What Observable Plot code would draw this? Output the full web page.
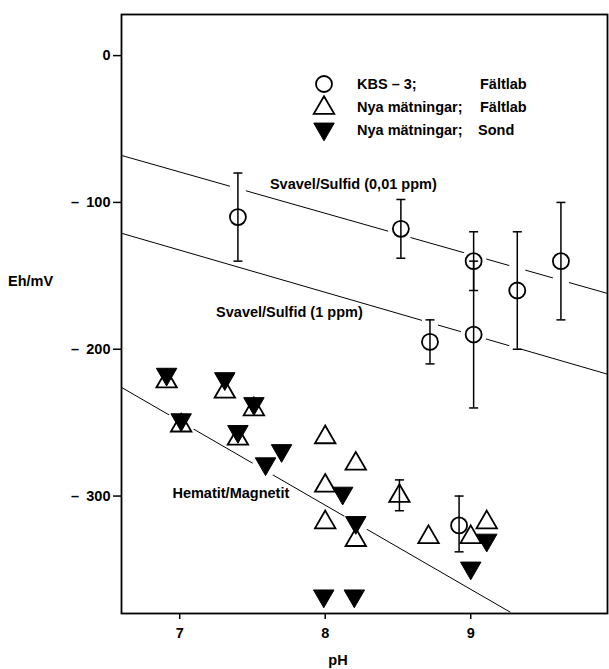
<!DOCTYPE html>
<html><head><meta charset="utf-8">
<script src="https://cdn.jsdelivr.net/npm/d3@7"></script>
<script src="https://cdn.jsdelivr.net/npm/@observablehq/plot@0.6"></script>
<style>
body{margin:0;background:#fff}
#chart svg text{font-family:"Liberation Sans",Arial,Helvetica,sans-serif;font-weight:bold;}
</style>
</head><body><div id="chart"></div>
<script>
// KBS-3; Fältlab (circles with error bars)
const kbsPH = [7.40, 8.52, 9.02, 9.02, 8.72, 9.32, 9.62, 8.92];
const kbsEh = [-110, -118, -140, -190, -195, -160, -140, -320];
const kbsLo = [-140, -138, -160, -240, -210, -200, -180, -338];
const kbsHi = [-80, -98, -120, -140, -180, -120, -100, -300];

// Nya mätningar; Fältlab (open triangles)
const faltPH = [6.91, 7.31, 7.51, 7.01, 7.40, 8.00, 8.21, 8.00, 8.00, 8.21, 8.51, 8.71, 9.00, 9.11];
const faltEh = [-222, -229, -241, -252, -261, -260, -278, -293, -318, -330, -300, -328, -328, -318];
// error bar on one open triangle
const faltErrPH = [8.51];
const faltErrLo = [-310];
const faltErrHi = [-289];

// Nya mätningar; Sond (filled triangles)
const sondPH = [6.91, 7.31, 7.51, 7.01, 7.40, 7.59, 7.70, 8.12, 8.21, 9.11, 9.00, 7.99, 8.20];
const sondEh = [-217, -220, -237, -248, -256, -278, -269, -298, -318, -330, -349, -368, -368];

// equilibrium lines
const lineNames = ["Svavel/Sulfid (0,01 ppm)", "Svavel/Sulfid (1 ppm)", "Hematit/Magnetit"];
const linePH = [[6.6, 9.94], [6.6, 9.94], [6.6, 9.27]];
const lineEh = [[-68, -162], [-121, -217], [-226, -379]];
// label anchors (data coords)
const labelPH = [7.62, 7.25, 6.95];
const labelEh = [-88, -175, -298];

const xTicks = [7, 8, 9];
const yTicks = [0, -100, -200, -300];

const legendLabels = ["KBS – 3;", "Nya mätningar;", "Nya mätningar;"];
const legendSources = ["Fältlab", "Fältlab", "Sond"];

// ---- build tables ----
const kbs = kbsPH.map((x, i) => ({pH: x, eh: kbsEh[i], lo: kbsLo[i], hi: kbsHi[i]}));
const falt = faltPH.map((x, i) => ({pH: x, eh: faltEh[i]}));
const faltErr = faltErrPH.map((x, i) => ({pH: x, lo: faltErrLo[i], hi: faltErrHi[i]}));
const sond = sondPH.map((x, i) => ({pH: x, eh: sondEh[i]}));
const lines = lineNames.flatMap((n, i) => linePH[i].map((x, j) => ({name: n, pH: x, eh: lineEh[i][j]})));
const labels = lineNames.map((n, i) => ({name: n, pH: labelPH[i], eh: labelEh[i]}));
const bars = [...kbs, ...faltErr];
const caps = bars.flatMap(d => [{pH: d.pH, eh: d.lo}, {pH: d.pH, eh: d.hi}]);
const allMarkers = [...kbs, ...falt, ...sond];

const triDown = {
  draw(ctx, size) {
    const y = -Math.sqrt(size / (3 * Math.sqrt(3)));
    ctx.moveTo(0, -2 * y);
    ctx.lineTo(-Math.sqrt(3) * y, y);
    ctx.lineTo(Math.sqrt(3) * y, y);
    ctx.closePath();
  }
};
const capSym = {
  draw(ctx, size) {
    const w = Math.sqrt(size);
    ctx.moveTo(-w / 2, 0);
    ctx.lineTo(w / 2, 0);
  }
};

const FS = 14.5;
const fmt = d => d === 0 ? "0" : "–\u2002" + Math.abs(d);

const plot = Plot.plot({
  width: 609,
  height: 669,
  marginLeft: 121,
  marginRight: 2,
  marginTop: 14,
  marginBottom: 56,
  style: {fontFamily: "Liberation Sans, Arial, sans-serif", fontSize: FS + "px", color: "#000", background: "#fff"},
  x: {domain: [6.6, 9.94]},
  y: {domain: [-380, 28]},
  marks: [
    Plot.line(lines, {x: "pH", y: "eh", z: "name", stroke: "#000", strokeWidth: 1, clip: true}),
    // white halos that break the lines around markers / error bars
    Plot.ruleX(bars, {x: "pH", y1: "lo", y2: "hi", stroke: "#fff", strokeWidth: 16}),
    Plot.dot(allMarkers, {x: "pH", y: "eh", r: 13, fill: "#fff", stroke: "none"}),
    Plot.dot(falt, {x: "pH", y: "eh", symbol: "triangle", r: 7.6, fill: "#fff", stroke: "#000", strokeWidth: 1.8}),
    Plot.ruleX(bars, {x: "pH", y1: "lo", y2: "hi", stroke: "#000", strokeWidth: 1.5}),
    Plot.dot(caps, {x: "pH", y: "eh", symbol: capSym, r: 5.1, stroke: "#000", strokeWidth: 1.5}),
    Plot.dot(kbs, {x: "pH", y: "eh", r: 8, fill: "none", stroke: "#000", strokeWidth: 1.8}),
    Plot.dot(sond, {x: "pH", y: "eh", symbol: triDown, r: 7.6, fill: "#000", stroke: "#000", strokeWidth: 1}),
    Plot.text(labels, {x: "pH", y: "eh", text: "name", textAnchor: "start", fontSize: FS, fontWeight: "bold", fill: "#000"}),
    Plot.frame({stroke: "#000", strokeWidth: 1.8}),
    Plot.axisY({ticks: yTicks, tickFormat: fmt, tickSize: 8, tickPadding: 3, fontSize: FS, fontWeight: "bold", label: null, strokeWidth: 1.5}),
    Plot.axisX({ticks: xTicks, tickFormat: d => String(d), tickSize: 6, tickPadding: 8, fontSize: FS, fontWeight: "bold", label: null, strokeWidth: 1.5})
  ]
});

document.getElementById("chart").appendChild(plot);

// legend and axis titles (layout annotations)
const svg = d3.select(plot);
const lg = svg.append("g").attr("font-size", FS).attr("fill", "#000").attr("text-anchor", "start");
const rowsY = [84, 107, 130];
const symX = 324;
lg.append("circle").attr("cx", symX).attr("cy", rowsY[0]).attr("r", 8).attr("fill", "none").attr("stroke", "#000").attr("stroke-width", 1.8);
lg.append("path").attr("transform", `translate(${symX},${rowsY[1] + 1})`).attr("d", d3.symbol(d3.symbolTriangle, Math.PI * 7.6 * 7.6)()).attr("fill", "#fff").attr("stroke", "#000").attr("stroke-width", 1.8);
lg.append("path").attr("transform", `translate(${symX},${rowsY[2] - 1})`).attr("d", d3.symbol(triDown, Math.PI * 7.6 * 7.6)()).attr("fill", "#000").attr("stroke", "#000");
legendLabels.forEach((t, i) => {
  lg.append("text").attr("x", 357).attr("y", rowsY[i]).attr("dy", "0.35em").text(t);
  lg.append("text").attr("x", i === 2 ? 478 : 480).attr("y", rowsY[i]).attr("dy", "0.35em").text(legendSources[i]);
});
svg.append("text").attr("x", 8).attr("y", 281).attr("dy", "0.35em").attr("text-anchor", "start").attr("font-size", FS).attr("fill", "#000").text("Eh/mV");
svg.append("text").attr("x", 338).attr("y", 660).attr("dy", "0.35em").attr("text-anchor", "middle").attr("font-size", FS).attr("fill", "#000").text("pH");
</script>
</body></html>
